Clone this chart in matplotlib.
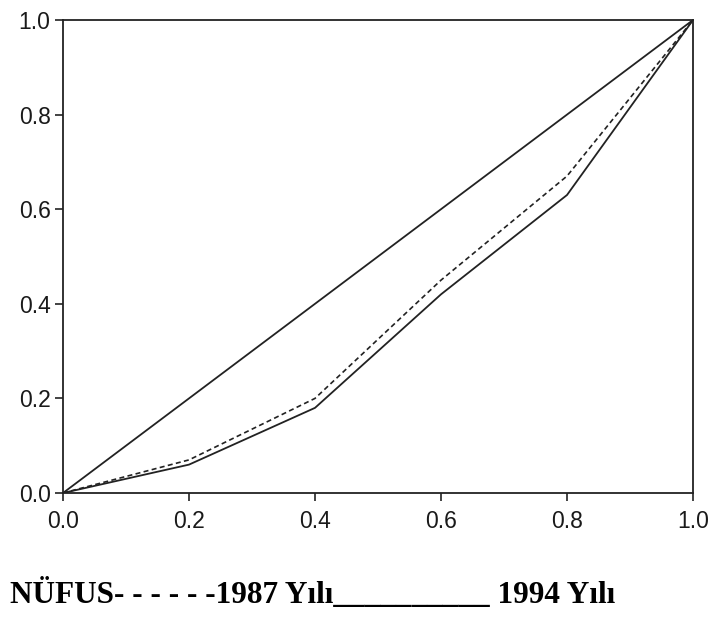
import matplotlib
matplotlib.use("Agg")
import matplotlib.pyplot as plt

# Lorenz curve data (cumulative population share vs cumulative income share)
pop_share = [0.0, 0.2, 0.4, 0.6, 0.8, 1.0]
equality = [0.0, 0.2, 0.4, 0.6, 0.8, 1.0]
y1987 = [0.0, 0.07, 0.20, 0.45, 0.67, 1.0]
y1994 = [0.0, 0.06, 0.18, 0.42, 0.63, 1.0]
ticks = [0.0, 0.2, 0.4, 0.6, 0.8, 1.0]
tick_labels = ["0.0", "0.2", "0.4", "0.6", "0.8", "1.0"]

fig = plt.figure(figsize=(7.13, 6.22), dpi=100)
ax = fig.add_axes([63 / 713, 1 - 493 / 622, 630 / 713, 473 / 622])

ax.plot(pop_share, equality, color="#222222", lw=1.3)
ax.plot(pop_share, y1987, color="#222222", lw=1.2, dashes=(3, 2))
ax.plot(pop_share, y1994, color="#222222", lw=1.3)

ax.set_xlim(0, 1)
ax.set_ylim(0, 1)
ax.set_xticks(ticks)
ax.set_xticklabels(tick_labels)
ax.set_yticks(ticks)
ax.set_yticklabels(tick_labels)
ax.tick_params(direction="out", length=6, width=1.2, color="#222222",
               labelsize=16.5)
ax.tick_params(axis="x", pad=6)
ax.tick_params(axis="y", pad=3)
for lab in ax.get_xticklabels() + ax.get_yticklabels():
    lab.set_fontfamily("Liberation Sans")
    lab.set_color("#1a1a1a")
for sp in ax.spines.values():
    sp.set_linewidth(1.3)
    sp.set_color("#222222")

fig.text(10 / 713, 1 - 603 / 622,
         "NÜFUS- - - - - -1987 Yılı__________ 1994 Yılı",
         fontfamily="Liberation Serif", fontweight="bold", fontsize=22.5,
         ha="left", va="baseline")

fig.savefig("out.png", dpi=100)
